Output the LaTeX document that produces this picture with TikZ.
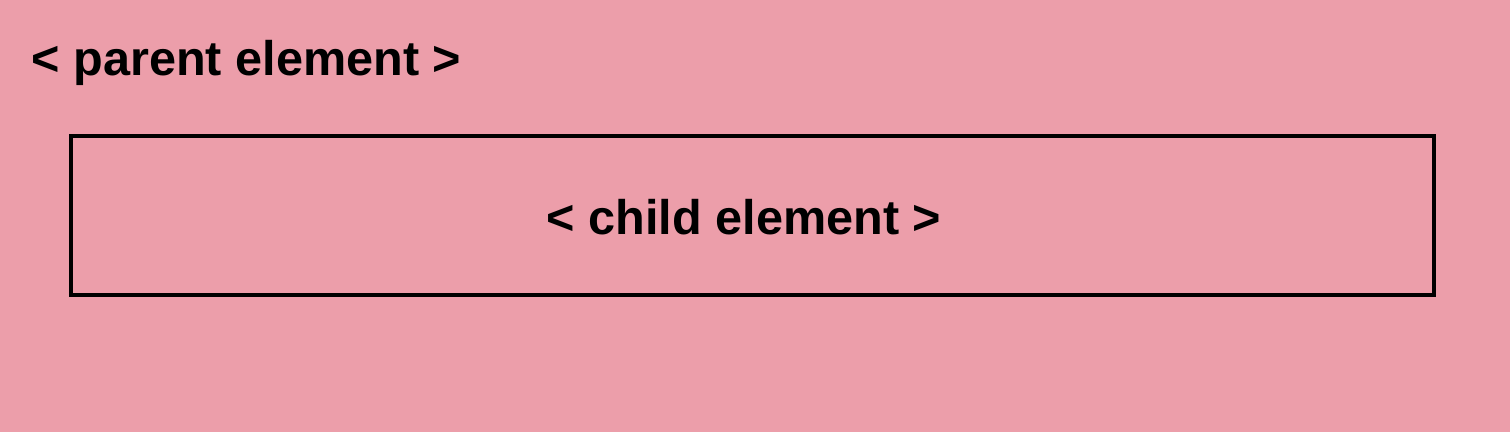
\documentclass[tikz,border=0pt]{standalone}
\usepackage{fontspec}
\setmainfont{Liberation Sans}
\definecolor{bgpink}{HTML}{EC9EAA}
\begin{document}
\begin{tikzpicture}[x=1pt,y=-1pt,
  lbl/.style={font=\fontsize{48.6}{56}\selectfont\bfseries, inner sep=0pt, text=black},
  childbox/.style={draw=black, line width=3.3pt}]
\fill[bgpink] (0,0) rectangle (1510,432);
\useasboundingbox (0,0) rectangle (1510,432);
\node[lbl, anchor=base west] (parent) at (31.5,75) {< parent element >};
\draw[childbox] (71,136) rectangle (1434,295);
\node[lbl, anchor=base] (child) at (744,234) {< child element >};
\end{tikzpicture}
\end{document}
